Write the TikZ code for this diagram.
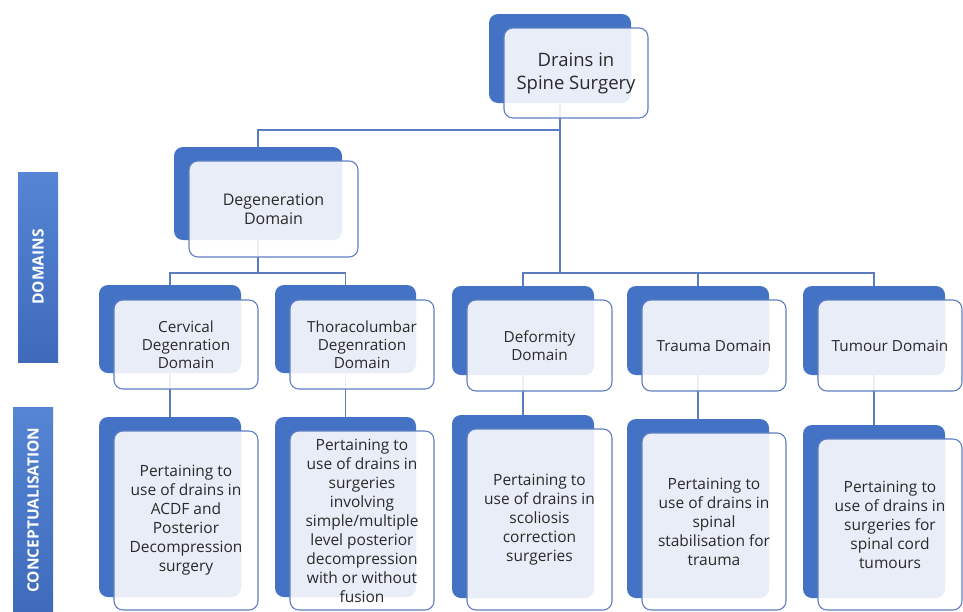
\documentclass[tikz,border=0pt]{standalone}
\usepackage{fontspec}
\setmainfont{Open Sans}
\usetikzlibrary{calc}
\definecolor{dblue}{HTML}{4472C4}
\definecolor{lblue}{HTML}{5F80C2}
\definecolor{conn}{HTML}{5B7CC0}
\definecolor{txt}{HTML}{2A2A2A}
\definecolor{bartop}{HTML}{5585D4}
\definecolor{barbot}{HTML}{3F6ABB}
\pgfdeclarelayer{background}
\pgfsetlayers{background,main}
\tikzset{
  back/.style={fill=dblue, draw=none, rounded corners=9pt, inner sep=0pt, outer sep=0pt},
  front/.style={draw=lblue, line width=1.1pt, fill=white, fill opacity=0.88, text opacity=1,
    rounded corners=9pt, inner sep=0pt, outer sep=0pt, align=center, text=txt},
  fa/.style={font=\fontsize{18.5}{23}\selectfont},
  fb/.style={font=\fontsize{16}{19}\selectfont},
  fc/.style={font=\fontsize{15.3}{18}\selectfont},
  fd/.style={font=\fontsize{15.5}{19}\selectfont},
  link/.style={draw=conn, line width=1.2pt},
  sidebar/.style={top color=bartop, bottom color=barbot, draw=none, inner sep=0pt},
  sidetext/.style={text=white, font=\bfseries\fontsize{15.5}{17}\selectfont, rotate=90},
}
\begin{document}
\begin{tikzpicture}[x=1pt,y=-1pt]
\useasboundingbox (0,0) rectangle (963,611);

% side bars
\node[sidebar, minimum width=40pt, minimum height=190pt] (bdom) at (38,267) {};
\node[sidetext] (ldom) at (bdom.center) {DOMAINS};
\node[sidebar, minimum width=40pt, minimum height=210pt] (bcon) at (33,512) {};
\node[sidetext] (lcon) at (33,510) {CONCEPTUALISATION};

% back boxes
\node[back, minimum width=142pt, minimum height=89pt] (tb) at (560,58.5) {};
\node[back, minimum width=168pt, minimum height=93pt] (deg) at (258,193.5) {};
\node[back, minimum width=142pt, minimum height=88pt] (cer) at (170,329) {};
\node[back, minimum width=141pt, minimum height=88pt] (tho) at (345.5,329) {};
\node[back, minimum width=142pt, minimum height=89pt] (dfm) at (523,330.5) {};
\node[back, minimum width=142pt, minimum height=89pt] (tra) at (698,330.5) {};
\node[back, minimum width=142pt, minimum height=89pt] (tum) at (874,330.5) {};
\node[back, minimum width=142pt, minimum height=180pt] (cerc) at (170,507) {};
\node[back, minimum width=141pt, minimum height=180pt] (thoc) at (345.5,507) {};
\node[back, minimum width=142pt, minimum height=183pt] (dfmc) at (523,506.5) {};
\node[back, minimum width=142pt, minimum height=179pt] (trac) at (698,508.5) {};
\node[back, minimum width=142pt, minimum height=173pt] (tumc) at (874,511.5) {};

% connectors
\begin{pgfonlayer}{background}
\fill[white] (0,0) rectangle (963,611);
\draw[link] (tb.south) |- ($(deg.north)+(0,-17)$) -- (deg.north);
\draw[link] (tb.south) |- ($(dfm.north)+(0,-13)$) -- (dfm.north);
\draw[link] (tb.south) |- ($(tra.north)+(0,-13)$) -- (tra.north);
\draw[link] (tb.south) |- ($(tum.north)+(0,-13)$) -- (tum.north);
\draw[link] (deg.south) |- ($(cer.north)+(0,-12)$) -- (cer.north);
\draw[link] (deg.south) |- ($(tho.north)+(0,-12)$) -- (tho.north);
\draw[link] (cer.south) -- (cerc.north);
\draw[link] (tho.south) -- (thoc.north);
\draw[link] (dfm.south) -- (dfmc.north);
\draw[link] (tra.south) -- (trac.north);
\draw[link] (tum.south) -- (tumc.north);
\end{pgfonlayer}

% front boxes
\node[front, fa, minimum width=144pt, minimum height=90pt] (tbf) at (576,73) {Drains in\\Spine Surgery};
\node[front, fb, minimum width=169pt, minimum height=96pt] (degf) at (273.5,209) {Degeneration\\Domain};
\node[front, fc, minimum width=144pt, minimum height=89pt] (cerf) at (186,344.5) {Cervical\\Degenration\\Domain};
\node[front, fc, minimum width=144pt, minimum height=89pt] (thof) at (362,344.5) {Thoracolumbar\\Degenration\\Domain};
\node[front, fc, minimum width=145pt, minimum height=91pt] (dfmf) at (539.5,345.5) {Deformity\\Domain};
\node[front, fc, minimum width=144pt, minimum height=91pt] (traf) at (714,345.5) {Trauma Domain};
\node[front, fc, minimum width=144pt, minimum height=91pt] (tumf) at (890,345.5) {Tumour Domain};

\node[front, fd, minimum width=144pt, minimum height=179pt] (cercf) at (186,520.5) {Pertaining to\\use of drains in\\ACDF and\\Posterior\\Decompression\\surgery};
\node[front, fd, minimum width=144pt, minimum height=179pt] (thocf) at (362,520.5) {Pertaining to\\use of drains in\\surgeries\\involving\\simple/multiple\\level posterior\\decompression\\with or without\\fusion};
\node[front, fd, minimum width=145pt, minimum height=181pt] (dfmcf) at (539.5,519.5) {Pertaining to\\use of drains in\\scoliosis\\correction\\surgeries};
\node[front, fd, minimum width=144pt, minimum height=177pt] (tracf) at (714,521.5) {Pertaining to\\use of drains in\\spinal\\stabilisation for\\trauma};
\node[front, fd, minimum width=144pt, minimum height=171pt] (tumcf) at (890,524.5) {Pertaining to\\use of drains in\\surgeries for\\spinal cord\\tumours};
\end{tikzpicture}
\end{document}
